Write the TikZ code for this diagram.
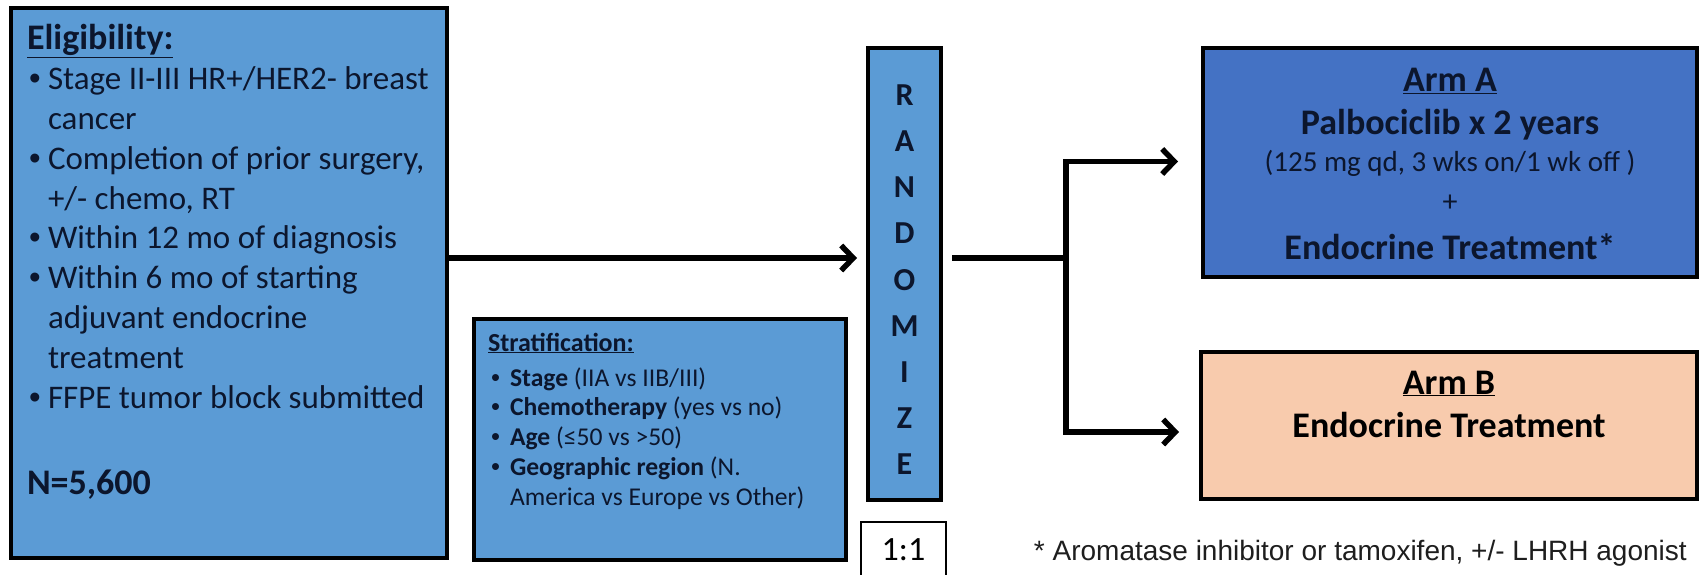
\documentclass[tikz,border=0pt]{standalone}
\usepackage{fontspec}
\setmainfont{Carlito}
\newfontfamily\notefont{Liberation Sans}
\usetikzlibrary{arrows.meta,calc}

\definecolor{boxblue}{RGB}{91,155,213}
\definecolor{armblue}{RGB}{68,114,196}
\definecolor{armpeach}{RGB}{248,203,173}
\definecolor{ink}{RGB}{12,22,45}
\definecolor{noteink}{RGB}{30,30,30}

% font size in bp with explicit line distance
\newcommand{\fsz}[2]{\fontsize{#1bp}{#2bp}\selectfont}
% bullet entries with hanging indent; \newline keeps the hanging indent
\newcommand{\bitem}[2]{\par\hangindent=#1\hangafter=1\noindent\makebox[#1][l]{\notefont\textbullet}#2}

\tikzset{
  panel/.style={draw=black, line width=4bp, inner sep=0pt, outer sep=0pt},
  label/.style={inner sep=0pt, outer sep=0pt, text=ink},
  link/.style={draw=black, line width=5.5bp, line join=miter},
  tip/.style={-{Straight Barb[length=12bp,width=25bp]}}
}

\begin{document}
\begin{tikzpicture}[x=1bp, y=-1bp]
\useasboundingbox (0,0) rectangle (1700,575);
\fill[white] (0,0) rectangle (1700,575);
\clip (0,0) rectangle (1700,575);

% eligibility panel
\node[panel, fill=boxblue, minimum width=436bp, minimum height=550bp] (elig) at (229,283) {};
\node[label, anchor=base west] (eligtitle) at (27,50) {\fsz{36}{40}\bfseries\underline{Eligibility:}};
\node[label, anchor=base west] (eliglist) at (29,90) {\parbox[t]{420bp}{\fsz{33}{39.75}\raggedright
  \bitem{19bp}{Stage II-III HR+/HER2- breast\newline cancer}
  \bitem{19bp}{Completion of prior surgery,\newline +/- chemo, RT}
  \bitem{19bp}{Within 12 mo of diagnosis}
  \bitem{19bp}{Within 6 mo of starting\newline adjuvant endocrine\newline treatment}
  \bitem{19bp}{FFPE tumor block submitted}}};
\node[label, anchor=base west] (elign) at (27,494) {\fsz{36}{40}\bfseries N=5,600};

% stratification panel
\node[panel, fill=boxblue, minimum width=372bp, minimum height=241bp] (strat) at (660,439.5) {};
\node[label, anchor=base west] (strattitle) at (488,351) {\fsz{26}{30}\bfseries\underline{Stratification:}};
\node[label, anchor=base west] (stratlist) at (491,386) {\parbox[t]{350bp}{\fsz{25.6}{29.8}\raggedright
  \bitem{19bp}{\textbf{Stage} (IIA vs IIB/III)}
  \bitem{19bp}{\textbf{Chemotherapy} (yes vs no)}
  \bitem{19bp}{\textbf{Age} (≤50 vs >50)}
  \bitem{19bp}{\textbf{Geographic region} (N.\newline America vs Europe vs Other)}}};

% randomisation column
\node[panel, fill=boxblue, minimum width=73bp, minimum height=452bp] (rand) at (904.5,274) {};
\node[label, anchor=base] (randtxt) at (904.5,106) {\parbox[t]{60bp}{\centering\fsz{32}{46}\bfseries R\\A\\N\\D\\O\\M\\I\\Z\\E}};

% allocation ratio
\node[draw=black, line width=1.2bp, fill=white, inner sep=0pt, minimum width=85bp, minimum height=62bp] (ratio) at (903.5,553) {};
\node[label, anchor=base, text=black] (ratiotxt) at (903.5,560) {\fsz{34}{40}1:1};

% treatment arms
\node[panel, line width=3.5bp, fill=armblue, minimum width=494bp, minimum height=229bp] (armA) at (1450,162.5) {};
\node[label, anchor=base] (armAt1) at (1450,92) {\fsz{36}{40}\bfseries\underline{Arm A}};
\node[label, anchor=base] (armAt2) at (1450,135) {\fsz{36}{40}\bfseries Palbociclib x 2 years};
\node[label, anchor=base] (armAt3) at (1450,172) {\fsz{29}{34}(125 mg qd, 3 wks on/1 wk off )};
\node[label, anchor=base] (armAt4) at (1450,212) {\fsz{30}{34}+};
\node[label, anchor=base] (armAt5) at (1450,259) {\fsz{36}{40}\bfseries Endocrine Treatment*};

\node[panel, fill=armpeach, minimum width=496bp, minimum height=147bp] (armB) at (1449,425.5) {};
\node[label, anchor=base, text=black] (armBt1) at (1449,394) {\fsz{36}{40}\bfseries\underline{Arm B}};
\node[label, anchor=base, text=black] (armBt2) at (1449,437) {\fsz{36}{40}\bfseries Endocrine Treatment};

% footnote
\node[inner sep=0pt, anchor=base east, text=noteink] (note) at (1687,560) {\notefont\fsz{28}{30}* Aromatase inhibitor or tamoxifen, +/- LHRH agonist};

% connectors
\coordinate (hub) at (1066,258);
\draw[link, tip] (elig.east |- hub) -- ($(rand.west |- hub)+(-11,0)$);
\draw[link] ($(rand.east |- hub)+(11,0)$) -- (hub);
\draw[link, tip] (hub) |- ($(armA.west)+(-25,-1)$);
\draw[link, tip] (hub) |- ($(armB.west)+(-22,6.5)$);
\end{tikzpicture}
\end{document}
